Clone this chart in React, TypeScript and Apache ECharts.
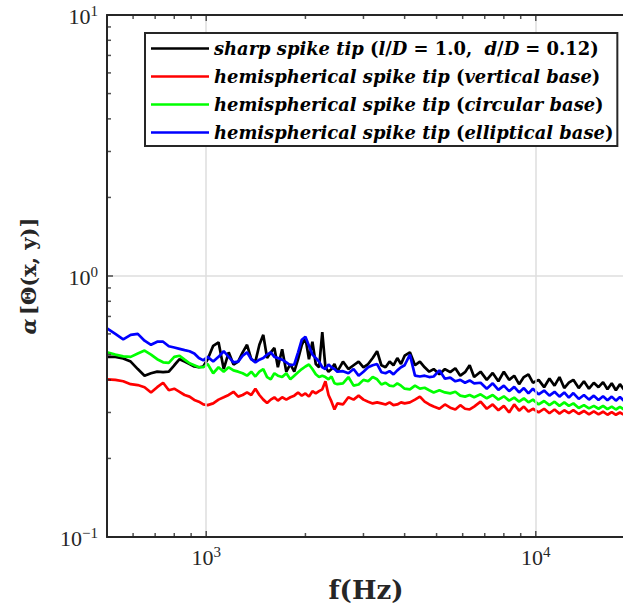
import React, { useEffect, useRef } from "react";
import * as echarts from "echarts";

const freqHz = [
  500, 530, 560, 590, 620, 650, 680, 710, 740, 770, 800, 830, 860, 890, 920, 950, 980,
  1010, 1050, 1090, 1130, 1170, 1210,
  1250, 1290, 1330, 1370, 1410, 1450, 1490, 1530, 1570, 1610, 1650,
  1700, 1750, 1800, 1850, 1900, 1950, 2000, 2050, 2100, 2150, 2200, 2250, 2300, 2350, 2400, 2450, 2500,
  2600, 2700, 2800, 2900, 3000, 3100, 3200, 3300, 3400, 3500, 3600, 3700, 3800, 3900, 4000,
  4150, 4300, 4450, 4600, 4750, 4900,
  5100, 5300, 5500, 5700, 5900, 6100, 6300, 6500,
  6800, 7100, 7400, 7700, 8000, 8300, 8600, 8900, 9200, 9500, 9800,
  10200, 10600, 11000, 11400, 11800, 12200, 12600,
  13000,
  13500, 14000, 14500, 15000, 15500, 16000, 16500, 17000, 17500, 18000, 18500, 19000,
];

const sharpTip = [
  0.49, 0.49, 0.483, 0.47, 0.44, 0.415, 0.424, 0.43, 0.428, 0.43, 0.455, 0.48, 0.47, 0.46, 0.45, 0.447, 0.45,
  0.48, 0.54, 0.557, 0.44, 0.51, 0.458,
  0.47, 0.51, 0.545, 0.48, 0.47, 0.545, 0.595, 0.485, 0.51, 0.53, 0.447,
  0.524, 0.43, 0.46, 0.43, 0.48, 0.545, 0.58, 0.48, 0.56, 0.46, 0.447, 0.61, 0.447, 0.43, 0.44, 0.46, 0.43,
  0.47, 0.44, 0.455, 0.47, 0.447, 0.46, 0.485, 0.515, 0.455, 0.447, 0.47, 0.455, 0.485, 0.46, 0.495,
  0.51, 0.455, 0.47, 0.447, 0.43, 0.44,
  0.42, 0.44, 0.428, 0.443, 0.415, 0.428, 0.455, 0.41,
  0.43, 0.4, 0.425, 0.395, 0.43, 0.4, 0.415, 0.385, 0.41, 0.42, 0.39,
  0.4, 0.375, 0.405, 0.38, 0.41, 0.372, 0.39,
  0.4,
  0.372, 0.395, 0.37, 0.39, 0.375, 0.392, 0.368, 0.388, 0.365, 0.385, 0.368, 0.38,
];

const verticalBase = [
  0.402, 0.4, 0.395, 0.385, 0.382, 0.375, 0.358, 0.375, 0.39, 0.365, 0.37, 0.36, 0.35, 0.345, 0.335, 0.33, 0.322,
  0.32, 0.325, 0.336, 0.343, 0.35, 0.36,
  0.345, 0.35, 0.358, 0.35, 0.37, 0.35, 0.336, 0.326, 0.336, 0.343, 0.333,
  0.343, 0.336, 0.343, 0.348, 0.358, 0.348, 0.355, 0.345, 0.362, 0.355, 0.362, 0.368, 0.395, 0.35, 0.33, 0.308, 0.325,
  0.322, 0.343, 0.336, 0.348, 0.336, 0.33, 0.325, 0.328, 0.325, 0.322, 0.328, 0.32, 0.322, 0.328, 0.325,
  0.328, 0.336, 0.345, 0.33, 0.322, 0.316,
  0.31, 0.322, 0.313, 0.308, 0.32, 0.31, 0.308, 0.316,
  0.33, 0.31, 0.322, 0.306, 0.318, 0.3, 0.322, 0.305, 0.316, 0.302, 0.31,
  0.3, 0.31, 0.298, 0.308, 0.297, 0.306, 0.298,
  0.306,
  0.296, 0.304, 0.295, 0.303, 0.295, 0.302, 0.294, 0.301, 0.294, 0.3, 0.294, 0.299,
];

const circularBase = [
  0.51, 0.5, 0.492, 0.49, 0.505, 0.518, 0.5, 0.48, 0.467, 0.465, 0.49, 0.495, 0.478, 0.463, 0.455, 0.447, 0.447,
  0.46, 0.424, 0.447, 0.43, 0.447, 0.435,
  0.43, 0.424, 0.415, 0.43, 0.412, 0.43, 0.44, 0.41, 0.402, 0.424, 0.415,
  0.41, 0.424, 0.402, 0.415, 0.428, 0.44, 0.45, 0.458, 0.44, 0.42, 0.41, 0.415, 0.41, 0.402, 0.412, 0.388, 0.385,
  0.388, 0.41, 0.38, 0.384, 0.4, 0.395, 0.41, 0.402, 0.384, 0.39, 0.38, 0.378, 0.388, 0.38, 0.37,
  0.368, 0.38, 0.37, 0.373, 0.365, 0.358,
  0.365, 0.358, 0.355, 0.36, 0.348, 0.345, 0.35, 0.343,
  0.352, 0.34, 0.35, 0.336, 0.346, 0.333, 0.342, 0.33, 0.34, 0.328, 0.336,
  0.322, 0.332, 0.32, 0.33, 0.318, 0.328, 0.318,
  0.325,
  0.312, 0.32, 0.311, 0.318, 0.31, 0.318, 0.309, 0.316, 0.308, 0.315, 0.308, 0.313,
];

const ellipticalBase = [
  0.63, 0.6, 0.572, 0.595, 0.6, 0.565, 0.545, 0.56, 0.56, 0.538, 0.532, 0.526, 0.52, 0.515, 0.505, 0.485, 0.475,
  0.49, 0.47, 0.49, 0.515, 0.49, 0.467,
  0.47, 0.495, 0.51, 0.48, 0.467, 0.478, 0.485, 0.5, 0.51, 0.49, 0.485,
  0.478, 0.467, 0.455, 0.458, 0.51, 0.57, 0.585, 0.54, 0.5, 0.485, 0.47, 0.447, 0.44, 0.458, 0.447, 0.44, 0.43,
  0.432, 0.424, 0.44, 0.415, 0.43, 0.447, 0.455, 0.46, 0.428, 0.424, 0.432, 0.42, 0.435, 0.447, 0.455,
  0.5, 0.415, 0.412, 0.415, 0.41, 0.412,
  0.435, 0.404, 0.408, 0.395, 0.4, 0.39, 0.398, 0.388,
  0.39, 0.37, 0.388, 0.366, 0.38, 0.362, 0.376, 0.358, 0.372, 0.355, 0.37,
  0.352, 0.364, 0.348, 0.36, 0.345, 0.358, 0.342,
  0.356,
  0.338, 0.35, 0.336, 0.348, 0.335, 0.346, 0.334, 0.345, 0.333, 0.344, 0.333, 0.342,
];

const seriesNames = [
  "sharp spike tip (l/D = 1.0, d/D = 0.12)",
  "hemispherical spike tip (vertical base)",
  "hemispherical spike tip (circular base)",
  "hemispherical spike tip (elliptical base)",
];
const legendRich = [
  "{i|sharp spike tip }{n|(}{i|l}{n|/}{i|D}{n| = 1.0,  }{i|d}{n|/}{i|D}{n| = 0.12)}",
  "{i|hemispherical spike tip }{n|(}{i|vertical base}{n|)}",
  "{i|hemispherical spike tip }{n|(}{i|circular base}{n|)}",
  "{i|hemispherical spike tip }{n|(}{i|elliptical base}{n|)}",
];
const seriesColors = ["#000000", "#ff0000", "#00ff00", "#0000ff"];

const xMajorTicks = [1000, 10000];
const xMinorTicks = [600, 700, 800, 900, 2000, 3000, 4000, 5000, 6000, 7000, 8000, 9000];
const yMajorTicks = [0.1, 1, 10];
const yMinorTicks = [0.2, 0.3, 0.4, 0.5, 0.6, 0.7, 0.8, 0.9, 2, 3, 4, 5, 6, 7, 8, 9];

const X_MIN = 500;
const X_MAX = 20000;
const Y_MIN = 0.1;
const Y_MAX = 10;

const AX = "#262626";
const TICK_FONT = "Liberation Serif";
const BOLD_FONT = "DejaVu Serif";

function powLabel(v: number) {
  const e = Math.round(Math.log10(v));
  const s = e < 0 ? "\u2212" + -e : String(e);
  return `{b|10}{s|${s}}`;
}

const powRich = {
  b: { fontFamily: TICK_FONT, fontSize: 22, color: AX, lineHeight: 24, verticalAlign: "bottom" },
  s: { fontFamily: TICK_FONT, fontSize: 15, color: AX, lineHeight: 24, verticalAlign: "top", padding: [0, 0, 10, 0] },
};

function makeAxis(kind: "x" | "y", position: string, main: boolean) {
  const isX = kind === "x";
  return {
    type: "log",
    logBase: 10,
    position,
    min: isX ? X_MIN : Y_MIN,
    max: isX ? X_MAX : Y_MAX,
    axisLine: { show: true, onZero: false, lineStyle: { color: AX, width: 2 } },
    axisTick: { show: false },
    axisLabel: main
      ? {
          show: true,
          customValues: isX ? xMajorTicks : yMajorTicks,
          formatter: powLabel,
          fontFamily: TICK_FONT,
          fontSize: 22,
          color: AX,
          rich: powRich,
          margin: isX ? 7 : 9,
        }
      : { show: false },
    splitLine: main
      ? { show: true, lineStyle: { color: "#dedede", width: 1.5 } }
      : { show: false },
    minorTick: { show: false },
    minorSplitLine: { show: false },
    z: 5,
  };
}

// Inward tick marks: thin rect symbols placed on the axis edges through the chart's own scales.
function tickSeries(points: number[][], size: number[], offset: number[]) {
  return {
    type: "scatter",
    xAxisIndex: 0,
    yAxisIndex: 0,
    symbol: "rect",
    symbolSize: size,
    symbolOffset: offset,
    clip: false,
    silent: true,
    itemStyle: { color: AX },
    data: points,
    z: 9,
  };
}

export default function App() {
  const ref = useRef<HTMLDivElement>(null);
  useEffect(() => {
    const chart = echarts.init(ref.current!, null, { renderer: "svg" });
    const xMain: any = makeAxis("x", "bottom", true);
    xMain.name = "f(Hz)";
    xMain.nameLocation = "middle";
    xMain.nameGap = 40;
    xMain.nameTextStyle = { fontFamily: BOLD_FONT, fontWeight: "bold", fontSize: 26, color: AX, padding: [0, 10, 0, 0] };
    const yMain: any = makeAxis("y", "left", true);
    yMain.name = "{a|\u03b1} {n|[\u0398(x, y)]}";
    yMain.nameLocation = "middle";
    yMain.nameGap = 68;
    yMain.nameRotate = 90;
    yMain.nameTextStyle = {
      color: AX,
      rich: {
        a: { fontFamily: BOLD_FONT, fontWeight: "bold", fontStyle: "italic", fontSize: 21, color: AX },
        n: { fontFamily: BOLD_FONT, fontWeight: "bold", fontSize: 21, color: AX },
      },
    };

    const bottomMajor = xMajorTicks.map((f) => [f, Y_MIN]);
    const bottomMinor = xMinorTicks.map((f) => [f, Y_MIN]);
    const topMajor = xMajorTicks.map((f) => [f, Y_MAX]);
    const topMinor = xMinorTicks.map((f) => [f, Y_MAX]);
    const leftMajor = yMajorTicks.map((v) => [X_MIN, v]);
    const leftMinor = yMinorTicks.map((v) => [X_MIN, v]);

    const dataSeries = [sharpTip, verticalBase, circularBase, ellipticalBase].map((vals, k) => ({
      name: seriesNames[k],
      type: "line",
      xAxisIndex: 0,
      yAxisIndex: 0,
      symbol: "none",
      showSymbol: false,
      color: seriesColors[k],
      lineStyle: { color: seriesColors[k], width: 2.7 },
      data: freqHz.map((f, i) => [f, vals[i]]),
      z: 2,
    }));

    const option: any = {
      animation: false,
      backgroundColor: "#ffffff",
      grid: { left: 107, top: 15, width: 528, height: 522, show: false },
      xAxis: [xMain, makeAxis("x", "top", false)],
      yAxis: [yMain, makeAxis("y", "right", false)],
      legend: {
        show: true,
        orient: "vertical",
        left: 145,
        top: 33,
        backgroundColor: "#ffffff",
        borderColor: AX,
        borderWidth: 2,
        borderRadius: 0,
        padding: [5, 4, 3, 6],
        itemWidth: 58,
        itemHeight: 2.5,
        itemGap: 7,
        icon: "rect",
        data: seriesNames,
        formatter: (name: string) => legendRich[seriesNames.indexOf(name)],
        textStyle: {
          color: "#000",
          lineHeight: 21,
          rich: {
            i: { fontFamily: BOLD_FONT, fontWeight: "bold", fontStyle: "italic", fontSize: 17.9, lineHeight: 21, color: "#000" },
            n: { fontFamily: BOLD_FONT, fontWeight: "bold", fontSize: 17.9, lineHeight: 21, color: "#000" },
          },
        },
        z: 10,
      },
      series: [
        ...dataSeries,
        tickSeries(bottomMajor, [1.5, 6], [0, -3]),
        tickSeries(bottomMinor, [1.5, 4], [0, -2]),
        tickSeries(topMajor, [1.5, 6], [0, 3]),
        tickSeries(topMinor, [1.5, 4], [0, 2]),
        tickSeries(leftMajor, [6, 1.5], [3, 0]),
        tickSeries(leftMinor, [4, 1.5], [2, 0]),
      ],
    };
    chart.setOption(option);
    return () => chart.dispose();
  }, []);
  return (
    <div style={{ position: "fixed", left: 0, top: 0, width: 623, height: 611, overflow: "hidden", background: "#fff" }}>
      <div ref={ref} style={{ width: 640, height: 611 }} />
    </div>
  );
}
